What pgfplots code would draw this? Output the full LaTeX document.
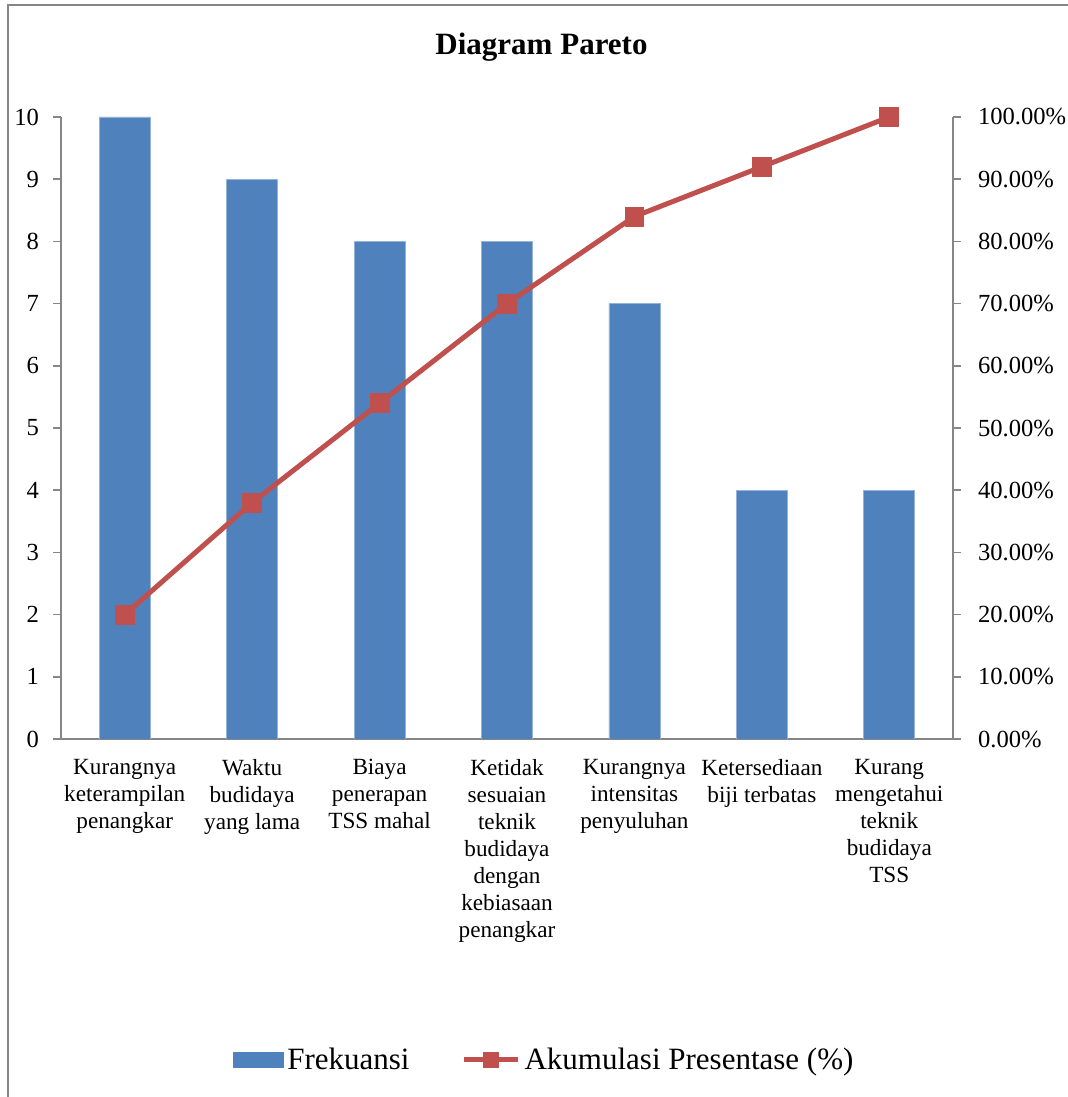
\documentclass[border=0pt]{standalone}
\usepackage{fontspec}
\setmainfont{Liberation Serif}
\usepackage{pgfplots}
\pgfplotsset{compat=1.18}
\definecolor{barblue}{HTML}{4F81BD}
\definecolor{linered}{HTML}{C0504D}
\definecolor{axisgray}{HTML}{868686}

\pgfplotsset{
  pareto/.style={
    at={(30.5pt,179pt)}, anchor=south west,
    scale only axis, width=446pt, height=311pt,
    xmin=-0.5, xmax=6.5,
    /pgf/number format/assume math mode=true,
    axis line style={axisgray, line width=0.8pt},
    tick style={axisgray, line width=0.8pt},
    tick align=outside,
    major tick length=4pt,
    ticklabel style={font=\fontsize{12.3}{14}\selectfont, black},
  },
  barleg/.style={legend image code/.code={\fill[barblue] (0pt,-3.75pt) rectangle (25pt,3.75pt);}},
  lineleg/.style={legend image code/.code={%
    \draw[##1, mark repeat=2, mark phase=2, mark size=3.9pt] plot coordinates {(0pt,0pt) (13.5pt,0pt) (27pt,0pt)};}},
}

\begin{document}
\begin{tikzpicture}
\useasboundingbox (0,0) rectangle (534pt,548.5pt);
% chart frame (only left and top edges are inside the picture)
\draw[axisgray, line width=0.8pt] (4pt,-5pt) -- (4pt,546pt) -- (540pt,546pt);
\node[font=\fontsize{15.5}{18}\selectfont\bfseries, anchor=base] at (270.75pt,521pt) {Diagram Pareto};

\begin{axis}[
  pareto,
  ymin=0, ymax=10,
  axis x line*=bottom, axis y line*=left,
  ytick={0,1,...,10},
  yticklabel style={xshift=-3.5pt},
  xtick={0,1,...,6},
  xtick style={draw=none},
  xticklabels={
    {Kurangnya\\keterampilan\\penangkar},
    {Waktu\\budidaya\\yang lama},
    {Biaya\\penerapan\\TSS mahal},
    {Ketidak\\sesuaian\\teknik\\budidaya\\dengan\\kebiasaan\\penangkar},
    {Kurangnya\\intensitas\\penyuluhan},
    {Ketersediaan\\biji terbatas},
    {Kurang\\mengetahui\\teknik\\budidaya\\TSS}
  },
  xticklabel style={align=center, font=\fontsize{11.6}{13.5}\selectfont, yshift=-2.5pt},
  extra x ticks={-0.5,0.5,...,6.5},
  extra x tick labels={},
  extra x tick style={xtick style={axisgray, line width=0.8pt}},
]
\addplot[ybar, bar width=25.5pt, fill=barblue, draw=barblue!60!white, line width=0.3pt]
  coordinates {(0,10) (1,9) (2,8) (3,8) (4,7) (5,4) (6,4)};
\end{axis}

\begin{axis}[
  pareto,
  ymin=0, ymax=100,
  axis x line=none, axis y line*=right,
  ytick={0,10,...,100},
  yticklabel style={xshift=5pt},
  yticklabel={\pgfmathprintnumber[fixed,fixed zerofill,precision=2]{\tick}\%},
  legend columns=2,
  legend style={draw=none, fill=none, at={(0.5426,-0.516)}, anchor=center,
    font=\fontsize{15.5}{18}\selectfont,
    /tikz/every even column/.append style={column sep=24pt}},
]
\addlegendimage{barleg}
\addlegendentry{Frekuansi}
\addplot[linered, line width=2.5pt, line join=round, mark=square*, mark size=4.7pt,
  mark options={solid, fill=linered, draw=linered, line width=0.4pt}, lineleg]
  coordinates {(0,20) (1,38) (2,54) (3,70) (4,84) (5,92) (6,100)};
\addlegendentry{Akumulasi Presentase (\%)}
\end{axis}
\end{tikzpicture}
\end{document}
